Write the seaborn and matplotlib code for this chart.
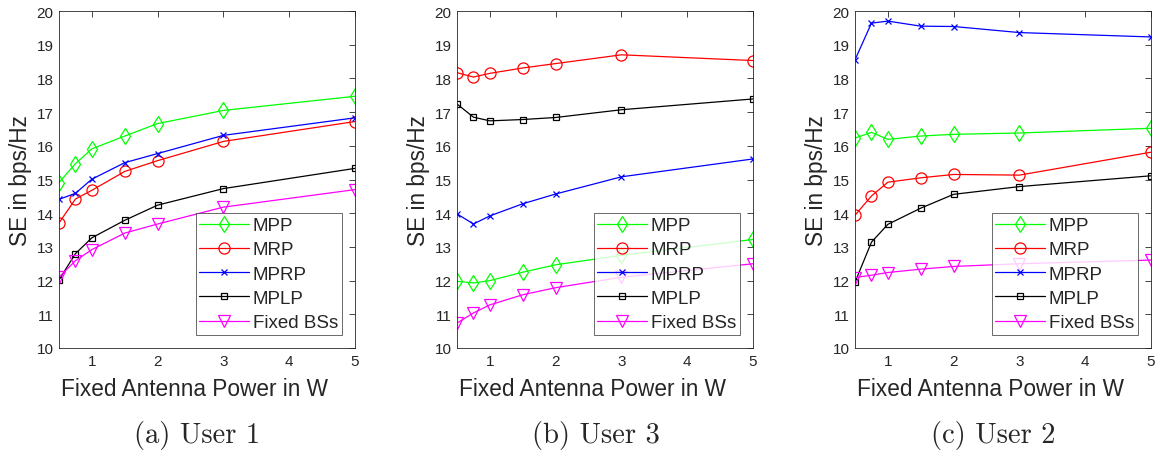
import matplotlib
matplotlib.use("Agg")
import matplotlib.pyplot as plt
import seaborn as sns
import numpy as np

power = [0.5, 0.75, 1, 1.5, 2, 3, 5]
series_names = ["MPP", "MRP", "MPRP", "MPLP", "Fixed BSs"]

user1_mpp = [14.91, 15.47, 15.91, 16.29, 16.66, 17.05, 17.47]
user1_mrp = [13.71, 14.42, 14.68, 15.24, 15.56, 16.13, 16.72]
user1_mprp = [14.41, 14.59, 15.01, 15.50, 15.77, 16.31, 16.83]
user1_mplp = [12.02, 12.80, 13.27, 13.79, 14.24, 14.73, 15.33]
user1_fixed = [12.10, 12.59, 12.92, 13.41, 13.68, 14.18, 14.70]

user3_mpp = [11.98, 11.93, 12.00, 12.25, 12.47, 12.75, 13.22]
user3_mrp = [18.17, 18.04, 18.15, 18.31, 18.44, 18.70, 18.53]
user3_mprp = [13.98, 13.68, 13.92, 14.28, 14.57, 15.08, 15.61]
user3_mplp = [17.24, 16.85, 16.74, 16.78, 16.84, 17.07, 17.39]
user3_fixed = [10.74, 11.04, 11.28, 11.58, 11.79, 12.10, 12.50]

user2_mpp = [16.23, 16.40, 16.19, 16.29, 16.34, 16.38, 16.52]
user2_mrp = [13.94, 14.51, 14.92, 15.05, 15.15, 15.13, 15.81]
user2_mprp = [18.55, 19.64, 19.70, 19.55, 19.54, 19.36, 19.23]
user2_mplp = [11.95, 13.14, 13.67, 14.15, 14.56, 14.79, 15.11]
user2_fixed = [12.09, 12.16, 12.24, 12.34, 12.42, 12.50, 12.61]

captions = ["(a) User 1", "(b) User 3", "(c) User 2"]
xticks = [1, 2, 3, 4, 5]
yticks = list(range(10, 21))

panels = [
    [user1_mpp, user1_mrp, user1_mprp, user1_mplp, user1_fixed],
    [user3_mpp, user3_mrp, user3_mprp, user3_mplp, user3_fixed],
    [user2_mpp, user2_mrp, user2_mprp, user2_mplp, user2_fixed],
]

sns.set_theme(style="white")
plt.rcParams["font.family"] = ["Liberation Sans", "DejaVu Sans"]

colors = ["#00ff00", "#ff0000", "#0000ff", "#000000", "#ff00ff"]
markers = ["d", "o", "x", "s", "v"]
msizes = [8, 8, 5, 5, 8]

W, H = 1155, 452
fig = plt.figure(figsize=(W / 100, H / 100), dpi=100)

lefts = [59, 457, 855]
ax_w = 296
ax_top, ax_bot = 12, 349
cap_x = [197.5, 596, 993]

for i, data in enumerate(panels):
    ax = fig.add_axes([lefts[i] / W, (H - ax_bot) / H, ax_w / W, (ax_bot - ax_top) / H])
    for j, vals in enumerate(data):
        sns.lineplot(x=power, y=vals, ax=ax, color=colors[j], marker=markers[j],
                     markersize=msizes[j], markerfacecolor="none",
                     markeredgecolor=colors[j], markeredgewidth=0.9,
                     linewidth=0.9, label=series_names[j])
    ax.set_xlim(0.5, 5)
    ax.set_ylim(10, 20)
    ax.set_xticks(xticks)
    ax.set_yticks(yticks)
    ax.tick_params(direction="in", top=True, right=True, length=4, width=0.6,
                   labelsize=11, colors="#262626", pad=4)
    for s in ax.spines.values():
        s.set_color("#262626")
        s.set_linewidth(0.6)
    ax.set_xlabel("Fixed Antenna Power in W", fontsize=16.3, color="#262626")
    ax.set_ylabel("SE in bps/Hz", fontsize=16.3, color="#262626")
    ax.xaxis.set_label_coords(0.458, -0.087)
    ax.yaxis.set_label_coords(-0.091, 0.5)
    leg = ax.legend(loc="lower right", fontsize=13.5, frameon=True, fancybox=False,
                    edgecolor="#262626", handlelength=2.65, handletextpad=0.2,
                    borderaxespad=0.7, labelspacing=0.38, borderpad=0.2)
    leg.get_frame().set_linewidth(0.6)
    fig.text(cap_x[i] / W, 1 - 443 / H, captions[i], ha="center", va="baseline",
             fontsize=20.6, family="cmr10")

fig.savefig("out.png", dpi=100)
